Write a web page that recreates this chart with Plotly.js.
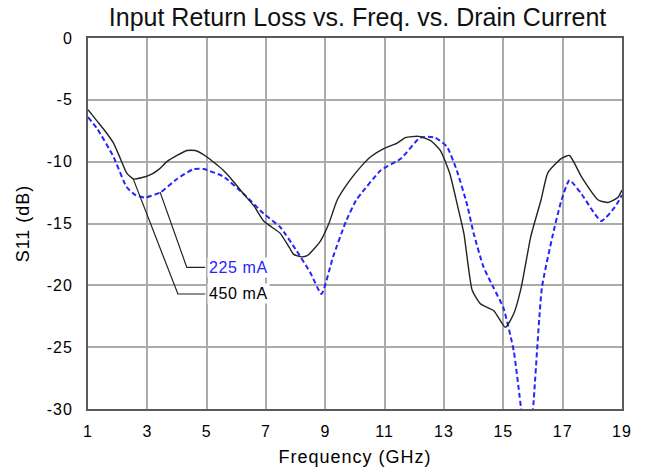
<!DOCTYPE html>
<html><head><meta charset="utf-8">
<script src="https://cdn.plot.ly/plotly-3.0.1.min.js"></script>
<style>
html,body{margin:0;padding:0;background:#fff}#c{width:647px;height:473px}
.xtick text,.ytick text{letter-spacing:1px}
.xtitle,.ytitle{letter-spacing:1px}
.annotation-text{letter-spacing:0.6px}
</style>
</head><body><div id="c"></div>
<script>
const freq450 = [1,1.3,1.6,1.86,2.1,2.3,2.53,2.8,3.15,3.4,3.66,4.0,4.33,4.62,5.0,5.56,5.9,6.24,6.6,6.92,7.2,7.48,7.8,7.93,8.2,8.39,8.6,8.84,9.12,9.4,9.8,10.2,10.53,10.97,11.42,11.7,12.15,12.55,12.88,13.2,13.45,13.67,13.95,14.23,14.68,15.07,15.35,15.6,15.93,16.27,16.5,16.95,17.23,17.63,18.2,18.53,18.86,19.0];
const s11_450 = [-5.8,-6.7,-7.6,-8.5,-9.8,-10.9,-11.4,-11.3,-11.0,-10.6,-10.0,-9.5,-9.1,-9.1,-9.6,-10.7,-11.6,-12.6,-13.6,-14.8,-15.3,-15.8,-17.0,-17.5,-17.7,-17.6,-17.1,-16.4,-15.0,-13.1,-11.6,-10.4,-9.6,-8.95,-8.5,-8.05,-7.95,-8.3,-9.1,-11.0,-13.5,-15.8,-20.4,-21.5,-22.05,-23.4,-22.3,-20.2,-16.0,-13.1,-10.9,-9.75,-9.5,-11.2,-13.1,-13.3,-12.9,-12.3];
const freq225 = [1,1.3,1.86,2.3,2.6,2.92,3.43,4.0,4.56,4.9,5.56,6.24,6.92,7.48,8.03,8.5,8.87,9.26,9.7,10.04,10.2,10.87,11.55,12.2,12.7,13.1,13.43,13.77,14.0,14.33,14.67,15.0,15.35,15.6,15.8,16.0,16.3,16.66,16.95,17.23,17.63,18.3,18.75,19.0];
const s11_225 = [-6.4,-7.3,-9.6,-12.05,-12.7,-12.9,-12.5,-11.4,-10.6,-10.6,-11.2,-12.6,-14.2,-15.3,-17.2,-19.0,-20.7,-17.7,-14.8,-13.1,-12.6,-10.7,-9.75,-8.05,-8.05,-8.8,-10.7,-13.4,-15.8,-18.5,-20.2,-21.8,-25.3,-30,-34,-30,-20.2,-16.0,-13.2,-11.5,-12.6,-14.8,-13.7,-12.7];
const xTicks = [1,3,5,7,9,11,13,15,17,19];
const yTicks = [0,-5,-10,-15,-20,-25,-30];
const labels = ["225 mA","450 mA"];
const leader225x = [3.43,4.33,4.95], leader225y = [-12.46,-18.55,-18.55];
const leader450x = [2.53,4.03,4.95], leader450y = [-11.43,-20.7,-20.7];

const traces = [
  {x:freq225,y:s11_225,mode:'lines',line:{color:'#2424ff',width:2,dash:'5px,3px',shape:'spline',smoothing:0.5},hoverinfo:'skip'},
  {x:freq450,y:s11_450,mode:'lines',line:{color:'#222',width:1.4,shape:'spline',smoothing:0.5},hoverinfo:'skip'},
  {x:leader225x,y:leader225y,mode:'lines',line:{color:'#222',width:1.2},hoverinfo:'skip'},
  {x:leader450x,y:leader450y,mode:'lines',line:{color:'#222',width:1.2},hoverinfo:'skip'}
];
const layout = {
  width:647,height:473,showlegend:false,
  paper_bgcolor:'#fff',plot_bgcolor:'#fff',
  margin:{l:88,r:25,t:38,b:64},
  font:{family:'Liberation Sans, Arial, sans-serif',size:16,color:'#000'},
  title:{text:'Input Return Loss vs. Freq. vs. Drain Current',font:{size:25,color:'#111'},x:0.5526,xanchor:'center',y:0.983,yanchor:'top'},
  xaxis:{range:[1,19],tickvals:xTicks,ticktext:xTicks.map(String),showgrid:true,gridcolor:'#ababab',gridwidth:2,
    showline:true,linecolor:'#5a5a5a',linewidth:2,mirror:true,zeroline:false,ticks:'',ticklabelstandoff:7,
    title:{text:'Frequency (GHz)',font:{size:18},standoff:11},tickfont:{size:16}},
  yaxis:{range:[-30,0],tickvals:yTicks,ticktext:yTicks.map(String),showgrid:true,gridcolor:'#ababab',gridwidth:2,
    showline:true,linecolor:'#5a5a5a',linewidth:2,mirror:true,zeroline:false,ticks:'',ticklabelstandoff:10,
    title:{text:'S11 (dB)',font:{size:18},standoff:12},tickfont:{size:16}},
  annotations:[
    {x:leader225x[2],y:leader225y[2],xref:'x',yref:'y',text:labels[0],showarrow:false,xanchor:'left',yanchor:'middle',
     font:{size:16,color:'#2424ff'},bgcolor:'#fff',borderpad:1,xshift:2},
    {x:leader450x[2],y:leader450y[2],xref:'x',yref:'y',text:labels[1],showarrow:false,xanchor:'left',yanchor:'middle',
     font:{size:16,color:'#000'},bgcolor:'#fff',borderpad:1,xshift:2}
  ]
};
Plotly.newPlot('c',traces,layout,{displayModeBar:false,staticPlot:true});
</script></body></html>
